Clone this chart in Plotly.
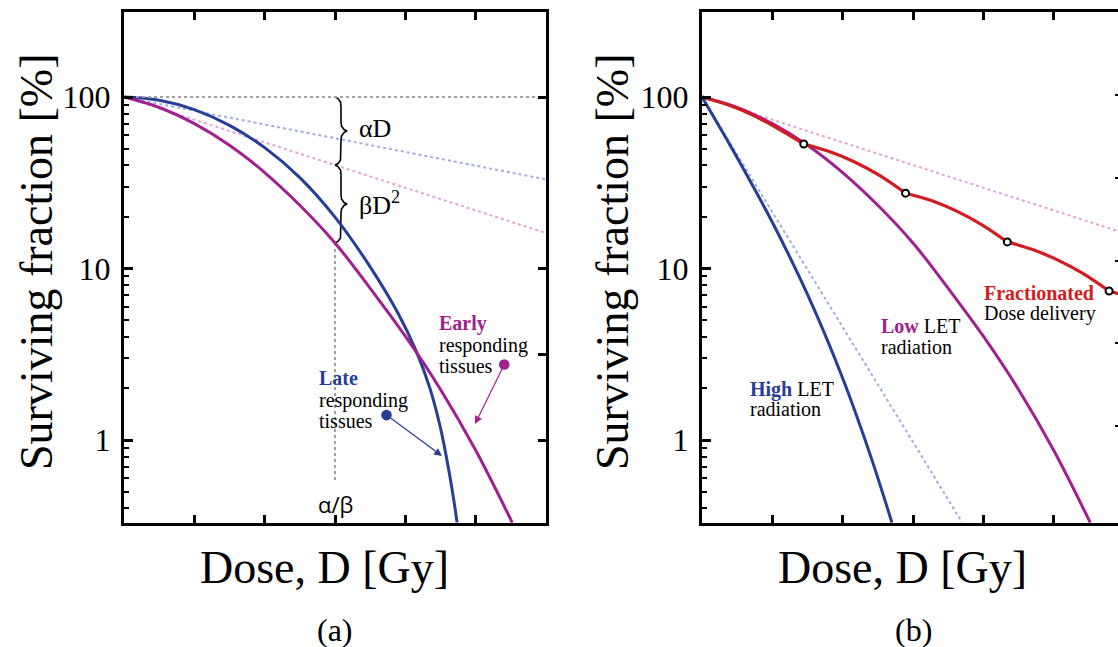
import numpy as np
import plotly.graph_objects as go

# ---------------- data: surviving fraction [%] versus dose [Gy] ----------------
# (a) linear-quadratic survival of late and early responding tissues
late_dose = [0, 0.5, 1.0, 1.5, 2.0, 2.5, 3.0, 3.5, 3.9, 4.15, 4.35, 4.5, 4.62, 4.70, 4.735]
late_surv = [100, 95.9, 84.5, 68.4, 50.7, 33.9, 19.95, 10.23, 5.45, 3.33, 2.0, 1.175, 0.66, 0.417, 0.331]

early_dose = [0, 0.5, 1.0, 1.5, 2.0, 2.5, 3.0, 3.5, 4.0, 4.5, 5.0, 5.52]
early_surv = [100, 86.9, 70.0, 52.4, 36.3, 23.4, 14.1, 7.67, 4.03, 1.97, 0.871, 0.33]

# single-hit (alpha) components, straight on the log scale
late_alpha_dose = [0, 6]
late_alpha_surv = [100, 33.1]
early_alpha_dose = [0, 6]
early_alpha_surv = [100, 16.1]

alpha_beta = 3.0          # dose where alpha*D equals beta*D^2
alpha_beta_low = 0.569    # lower end of the alpha/beta guide line

# (b) radiation quality and fractionation
high_let_dose = [0, 0.5, 1.0, 1.5, 2.0, 2.4, 2.7]
high_let_surv = [100, 44.3, 18.6, 7.06, 2.29, 0.80, 0.33]
high_let_ref_dose = [0, 3.70]
high_let_ref_surv = [100, 0.33]

low_let_dose = early_dose
low_let_surv = early_surv
low_alpha_dose = [0, 6]
low_alpha_surv = [100, 16.1]

frac_segments = [
    ([0, 0.36, 0.72, 1.08, 1.447], [100, 90.4, 78.5, 65.5, 53.2]),
    ([1.447, 1.81, 2.17, 2.53, 2.894], [53.2, 48.1, 41.8, 34.8, 27.5]),
    ([2.894, 3.26, 3.62, 3.98, 4.341], [27.5, 24.9, 21.6, 18.0, 14.3]),
    ([4.341, 4.70, 5.06, 5.42, 5.788], [14.3, 12.9, 11.2, 9.35, 7.40]),
    ([5.788, 5.95], [7.40, 7.06]),
]
frac_point_dose = [1.447, 2.894, 4.341, 5.788]
frac_point_surv = [53.2, 27.5, 14.3, 7.40]

yticks = [1, 10, 100]
yticktext = ["1", "10", "100"]
xticks = [1, 2, 3, 4, 5]

# ---------------- styling ----------------
W, H = 1118, 647
BLUE = "#263e97"
MAGENTA = "#a1208f"
RED = "#d21c20"
BLUE_DOT = "#9cade0"
MAG_DOT = "#e2a2dc"
GRAY_DOT = "#a0a0a0"
SERIF = "Liberation Serif"
SANS = "Open Sans"

YRANGE = [-0.484, 2.496]
A_LEFT, A_RIGHT = 124, 546
B_LEFT, B_RIGHT = 702, 1118
TOP, BOTTOM = 12, 523

def px(x):
    return x / W

def py(y):
    return 1 - y / H

fig = go.Figure()

def line(x, y, color, width, xa, ya, dash=None, shape="spline"):
    fig.add_trace(go.Scatter(
        x=x, y=y, mode="lines", xaxis=xa, yaxis=ya, hoverinfo="skip",
        line=dict(color=color, width=width, dash=dash, shape=shape, smoothing=1.0),
    ))

DOTS = "3px,3px"

# ---- panel (a) ----
line([0, 6], [100, 100], GRAY_DOT, 2, "x", "y4", DOTS, "linear")
line(late_alpha_dose, late_alpha_surv, BLUE_DOT, 2, "x", "y", DOTS, "linear")
line(early_alpha_dose, early_alpha_surv, MAG_DOT, 2, "x", "y", DOTS, "linear")

early_at_ab = 10 ** np.interp(alpha_beta, early_dose, np.log10(early_surv))
line([alpha_beta, alpha_beta], [early_at_ab, alpha_beta_low], GRAY_DOT, 2, "x", "y", DOTS, "linear")

# curly braces marking the alpha*D and beta*D^2 contributions at D = alpha/beta
d_per_px = 6 / (A_RIGHT - A_LEFT)
log_per_px = (YRANGE[1] - YRANGE[0]) / (BOTTOM - TOP)

def brace(x0, s_top, s_bot):
    lt, lb = np.log10(s_top), np.log10(s_bot)
    h = (lt - lb) / log_per_px
    m = h / 2
    pts = [(0, 0), (3, 1.5), (5.5, 5), (6, 9), (6, m - 9), (6.5, m - 5), (9, m - 1.5),
           (12, m), (9, m + 1.5), (6.5, m + 5), (6, m + 9), (6, h - 9), (5.5, h - 5),
           (3, h - 1.5), (0, h)]
    xs = [x0 + p[0] * d_per_px for p in pts]
    ys = [10 ** (lt - p[1] * log_per_px) for p in pts]
    line(xs, ys, "black", 1.6, "x", "y", None, "linear")

early_alpha_at_ab = 10 ** np.interp(alpha_beta, early_alpha_dose, np.log10(early_alpha_surv))
brace(alpha_beta, 100, early_alpha_at_ab)
brace(alpha_beta, early_alpha_at_ab, early_at_ab)

line(late_dose, late_surv, BLUE, 3, "x", "y")
line(early_dose, early_surv, MAGENTA, 3, "x", "y")

# ---- panel (b) ----
line(low_alpha_dose, low_alpha_surv, MAG_DOT, 2, "x2", "y2", DOTS, "linear")
line(high_let_ref_dose, high_let_ref_surv, BLUE_DOT, 2, "x2", "y2", DOTS, "linear")
line(high_let_dose, high_let_surv, BLUE, 3, "x2", "y2")
line(low_let_dose, low_let_surv, MAGENTA, 3, "x2", "y2")
for sx, sy in frac_segments:
    line(sx, sy, RED, 3.2, "x2", "y2")
fig.add_trace(go.Scatter(
    x=frac_point_dose, y=frac_point_surv, mode="markers", xaxis="x2", yaxis="y2",
    hoverinfo="skip", cliponaxis=False,
    marker=dict(size=7, color="white", line=dict(color="black", width=2)),
))
# carrier for the tick marks on the right border of panel (b)
fig.add_trace(go.Scatter(x=[None], y=[None], xaxis="x2", yaxis="y3", hoverinfo="skip"))

# ---------------- axes ----------------
common_x = dict(
    range=[0, 6], tickvals=xticks, showticklabels=False, ticks="inside", ticklen=8,
    tickwidth=2.5, tickcolor="black", showline=True, linewidth=3, linecolor="black",
    mirror="ticks", showgrid=False, zeroline=False, fixedrange=True,
)
minor_vals = [0.4, 0.5, 0.6, 0.7, 0.8, 0.9, 2, 3, 4, 5, 6, 7, 8, 9,
              20, 30, 40, 50, 60, 70, 80, 90]
common_y = dict(
    type="log", range=YRANGE, domain=[py(BOTTOM), py(TOP)], tickvals=yticks,
    ticktext=yticktext, ticks="inside", ticklen=9, tickwidth=2.5, tickcolor="black",
    minor=dict(tickmode="array", tickvals=minor_vals, ticks="inside", ticklen=5,
               tickwidth=2, tickcolor="black"),
    tickfont=dict(family=SERIF, size=32, color="black"), ticklabelstandoff=4,
    showline=True, linewidth=3, linecolor="black", showgrid=False, zeroline=False,
    fixedrange=True,
)

fig.update_layout(
    width=W, height=H, margin=dict(l=0, r=0, t=0, b=0),
    paper_bgcolor="white", plot_bgcolor="white", showlegend=False,
    xaxis=dict(common_x, domain=[px(A_LEFT), px(A_RIGHT)], anchor="y"),
    yaxis=dict(common_y, anchor="x", mirror=True),
    xaxis2=dict(common_x, domain=[px(B_LEFT), px(B_RIGHT)], anchor="y2",
                range=[0, (B_RIGHT - B_LEFT) * d_per_px]),
    yaxis2=dict(common_y, anchor="x2", mirror=False),
    yaxis3=dict(overlaying="y2", anchor="x2", side="right", range=[-0.172, 6.003],
                tickvals=[1, 2, 3, 4, 5], ticks="inside", ticklen=3, tickwidth=2,
                tickcolor="black", showticklabels=False, showline=False,
                showgrid=False, zeroline=False, fixedrange=True),
    yaxis4=dict(overlaying="y", anchor="x", side="right", type="log", range=YRANGE,
                tickvals=[1, 10 ** 0.5, 10, 100], ticks="inside", ticklen=8,
                tickwidth=2.5, tickcolor="black", showticklabels=False,
                showline=False, showgrid=False, zeroline=False, fixedrange=True),
)

# ---------------- text ----------------
def text(s, x, y, size, family=SERIF, xanchor="left", color="black", angle=0):
    fig.add_annotation(text=s, x=px(x), y=py(y), xref="paper", yref="paper",
                       xanchor=xanchor, yanchor="middle", showarrow=False,
                       textangle=angle, font=dict(family=family, size=size, color=color))

for cx in (324, 902):
    text("Dose, D [Gy]", cx, 567, 46, xanchor="center")
for cx in (36, 612):
    text("Surviving fraction [%]", cx, 262, 46, xanchor="center", angle=-90)
text("(a)", 335, 630, 32, xanchor="center")
text("(b)", 913, 630, 32, xanchor="center")

text("αD", 357, 128, 26)
text("βD<sup>2</sup>", 357, 204, 26)
text("α/β", 335, 504, 22, family=SANS, xanchor="center")

text("<b>Early</b>", 437, 323, 20, color=MAGENTA)
text("responding", 437, 345, 20)
text("tissues", 437, 366, 20)
text("<b>Late</b>", 317, 378, 20, color=BLUE)
text("responding", 317, 400, 20)
text("tissues", 317, 421, 20)

text("<b>Fractionated</b>", 982, 293, 20, color=RED)
text("Dose delivery", 982, 313, 20)
text(f"<b><span style='color:{MAGENTA}'>Low</span></b> LET", 879, 326, 20)
text("radiation", 879, 347, 20)
text(f"<b><span style='color:{BLUE}'>High</span></b> LET", 748, 389, 20)
text("radiation", 748, 409, 20)

def pointer(tip, tail, color):
    fig.add_annotation(
        x=px(tip[0]), y=py(tip[1]), xref="paper", yref="paper", text="",
        showarrow=True, ax=tail[0] - tip[0], ay=tail[1] - tip[1],
        arrowhead=2, arrowsize=1.3, arrowwidth=1.2, arrowcolor=color,
        arrowside="end+start", startarrowhead=6, startarrowsize=2.2, standoff=0,
        startstandoff=0,
    )

pointer((475, 424), (505, 363), MAGENTA)
pointer((442, 456), (385, 414), BLUE)

fig.write_html("out.html")
